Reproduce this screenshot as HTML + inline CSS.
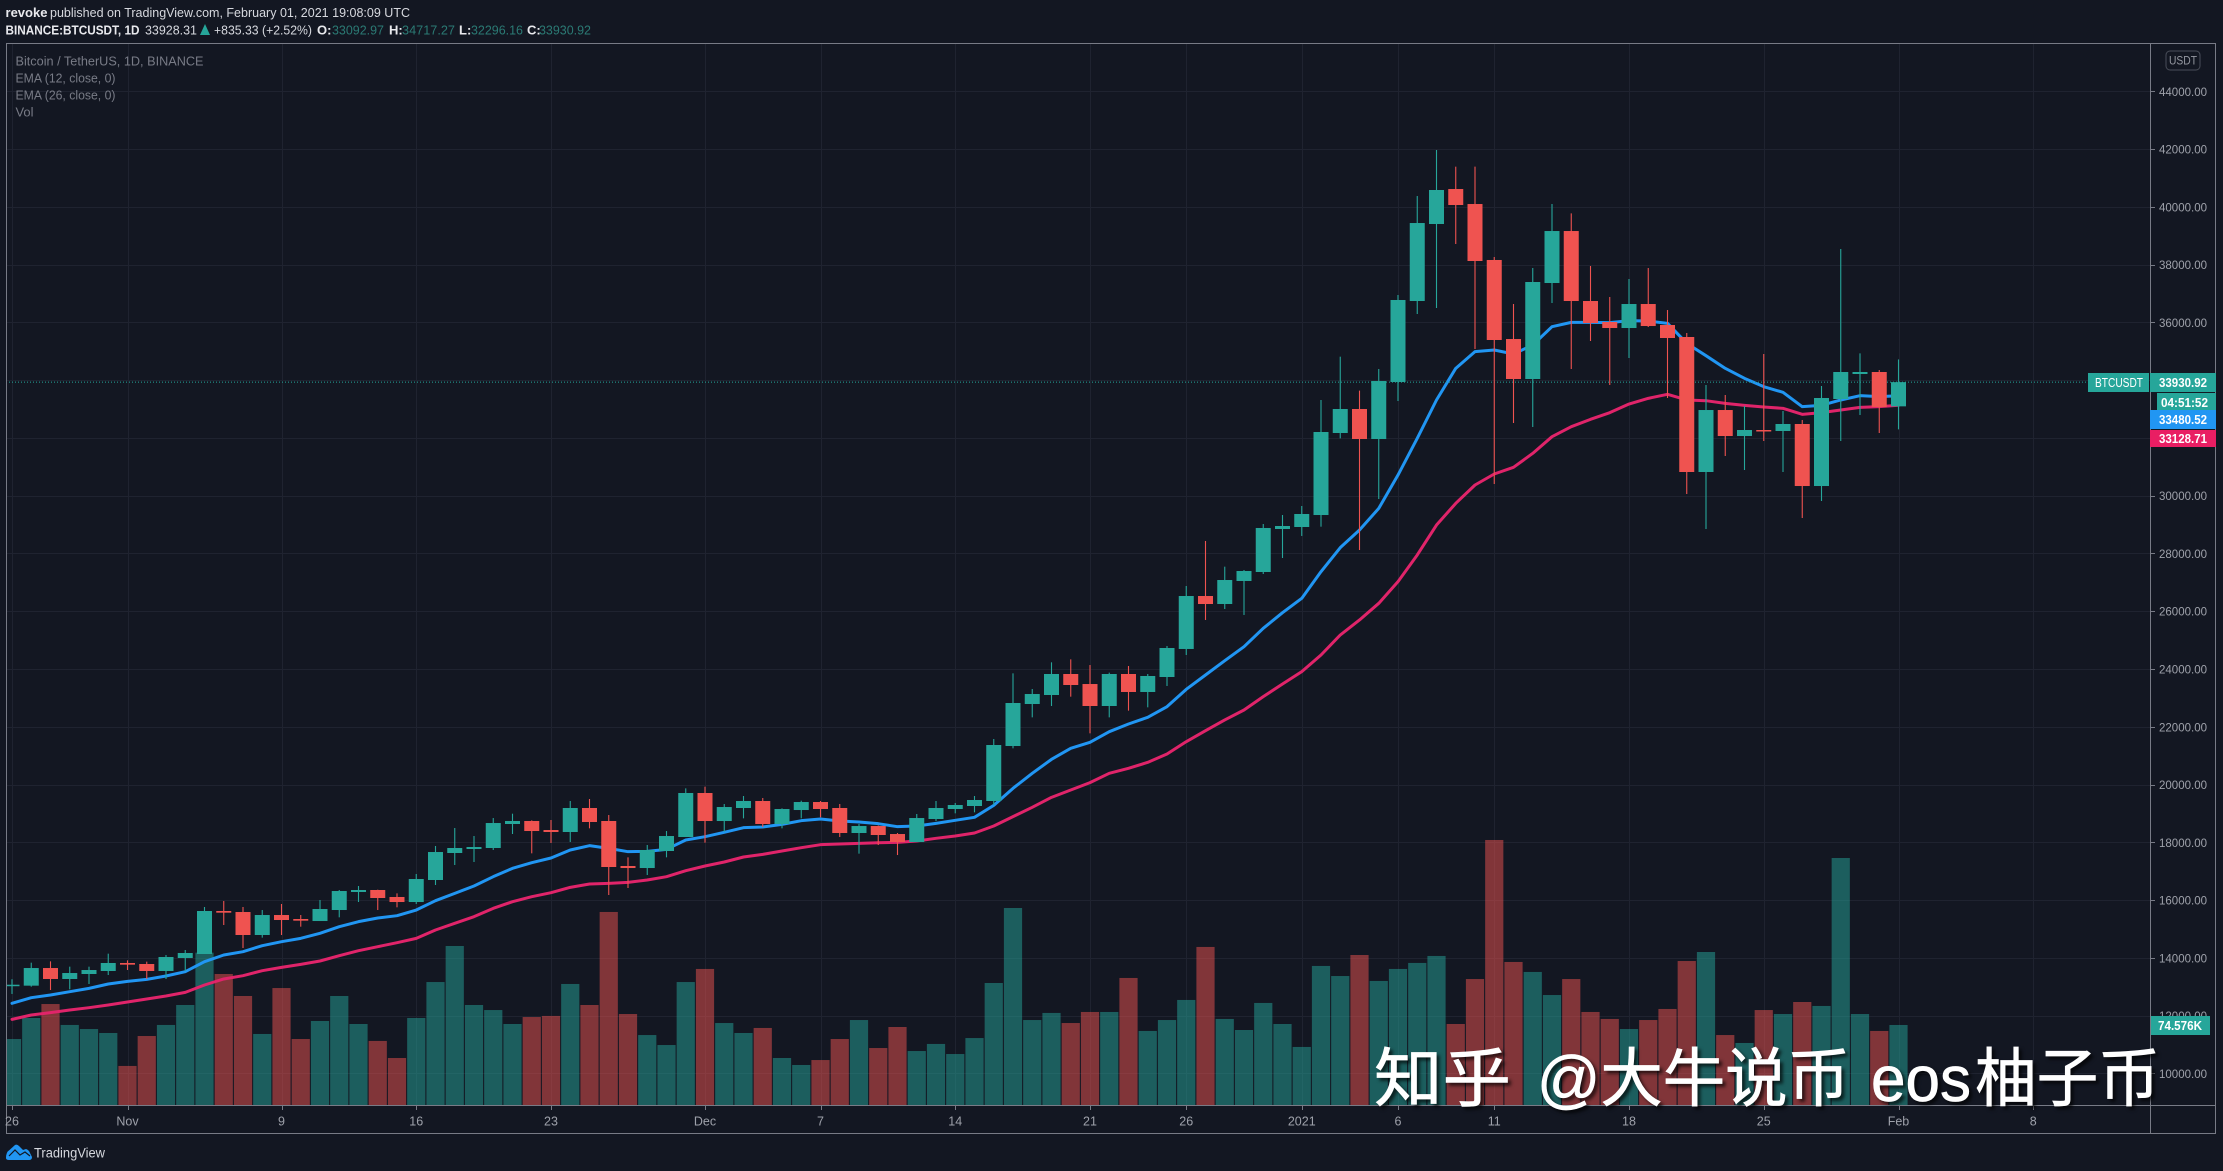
<!DOCTYPE html>
<html lang="en">
<head>
<meta charset="utf-8">
<title>BTCUSDT chart</title>
<style>
html,body{margin:0;padding:0;background:#131722;}
body{width:2223px;height:1171px;overflow:hidden;}
svg{display:block;}
text{font-family:"Liberation Sans","Noto Sans CJK SC",sans-serif;}
.wm{font-family:"Liberation Sans","Noto Sans CJK SC",sans-serif;fill:#fff;stroke:#fff;stroke-width:.7px;font-size:64px;}
</style>
</head>
<body>
<svg id="chart" xmlns="http://www.w3.org/2000/svg" width="2223" height="1171" viewBox="0 0 2223 1171">
  <rect x="0" y="0" width="2223" height="1171" fill="#131722"/>
  <g font-size="13" fill="#d6d8de">
    <text x="5.5" y="17" font-weight="bold" fill="#e8e9ed" textLength="42" lengthAdjust="spacingAndGlyphs">revoke</text>
    <text x="50" y="17" textLength="360" lengthAdjust="spacingAndGlyphs">published on TradingView.com, February 01, 2021 19:08:09 UTC</text>
  </g>
  <g font-size="13">
    <text x="5.5" y="34.5" font-weight="bold" fill="#e8e9ed" textLength="134" lengthAdjust="spacingAndGlyphs">BINANCE:BTCUSDT, 1D</text>
    <text x="145" y="34.5" fill="#d6d8de" textLength="52" lengthAdjust="spacingAndGlyphs">33928.31</text>
    <polygon points="200,35 210,35 205,24" fill="#26a69a"/>
    <text x="214" y="34.5" fill="#d6d8de" textLength="98" lengthAdjust="spacingAndGlyphs">+835.33 (+2.52%)</text>
    <text x="317" y="34.5" font-weight="bold" fill="#e8e9ed">O:</text>
    <text x="332" y="34.5" fill="#2b7a74" textLength="52" lengthAdjust="spacingAndGlyphs">33092.97</text>
    <text x="389" y="34.5" font-weight="bold" fill="#e8e9ed">H:</text>
    <text x="402" y="34.5" fill="#2b7a74" textLength="53" lengthAdjust="spacingAndGlyphs">34717.27</text>
    <text x="459" y="34.5" font-weight="bold" fill="#e8e9ed">L:</text>
    <text x="471" y="34.5" fill="#2b7a74" textLength="52" lengthAdjust="spacingAndGlyphs">32296.16</text>
    <text x="527" y="34.5" font-weight="bold" fill="#e8e9ed">C:</text>
    <text x="539" y="34.5" fill="#2b7a74" textLength="52" lengthAdjust="spacingAndGlyphs">33930.92</text>
  </g>
  <defs>
    <clipPath id="plot-clip"><rect x="6" y="44" width="2144" height="1061"/></clipPath>
  </defs>
  <g id="grid"></g>
  <g clip-path="url(#plot-clip)">
    <g id="volume"></g>
    <g id="emas"></g>
    <line id="last-line" stroke="#26a69a" stroke-width="1" stroke-dasharray="1 2"/>
    <g id="candles"></g>
  </g>
  <g fill="none" stroke="#787b86" stroke-width="1">
    <rect x="6.5" y="43.5" width="2209" height="1090"/>
    <line x1="2150.5" y1="44" x2="2150.5" y2="1134"/>
    <line x1="6" y1="1105.5" x2="2216" y2="1105.5"/>
  </g>
  <g id="price-axis"></g>
  <g id="time-axis"></g>
  <g font-size="13" fill="#787b86">
    <text x="15.5" y="65.5" textLength="188" lengthAdjust="spacingAndGlyphs">Bitcoin / TetherUS, 1D, BINANCE</text>
    <text x="15.5" y="82.5" textLength="100" lengthAdjust="spacingAndGlyphs">EMA (12, close, 0)</text>
    <text x="15.5" y="99.5" textLength="100" lengthAdjust="spacingAndGlyphs">EMA (26, close, 0)</text>
    <text x="15.5" y="116.5" textLength="18" lengthAdjust="spacingAndGlyphs">Vol</text>
  </g>
  <g>
    <rect x="2166" y="51" width="34" height="19" rx="4" fill="none" stroke="#4a4e59"/>
    <text x="2183" y="64.5" font-size="12" fill="#9598a1" text-anchor="middle" textLength="28" lengthAdjust="spacingAndGlyphs">USDT</text>
  </g>
  <g font-size="12.5" font-weight="bold" fill="#fff">
    <rect x="2088" y="373" width="61" height="19" fill="#26a69a"/>
    <text x="2095" y="387" textLength="48" lengthAdjust="spacingAndGlyphs" font-weight="normal" font-size="13">BTCUSDT</text>
    <rect x="2150" y="373" width="66" height="19" fill="#26a69a"/>
    <text x="2159" y="387" textLength="48" lengthAdjust="spacingAndGlyphs">33930.92</text>
    <rect x="2157" y="393" width="59" height="18" fill="#26a69a"/>
    <text x="2161" y="407" textLength="47" lengthAdjust="spacingAndGlyphs">04:51:52</text>
    <rect x="2150" y="410" width="66" height="19" fill="#2196f3"/>
    <text x="2159" y="424" textLength="48" lengthAdjust="spacingAndGlyphs">33480.52</text>
    <rect x="2150" y="430" width="66" height="17" fill="#e91e63"/>
    <text x="2159" y="443" textLength="48" lengthAdjust="spacingAndGlyphs">33128.71</text>
    <rect x="2151" y="1016" width="59" height="19" fill="#26a69a"/>
    <text x="2158" y="1030" textLength="44" lengthAdjust="spacingAndGlyphs">74.576K</text>
  </g>
  <g>
    <path d="M6 1158 Q6 1152 9.5 1150 L15 1145 Q17 1144 19 1146 L23 1150 L26 1149 Q29 1150 30 1153 L32 1157 Q32 1160 29 1160 L9 1160 Q6 1160 6 1158 Z" fill="#2196f3"/>
    <path d="M9 1156 L15 1150 L20 1155 L25 1152 L30 1156" fill="none" stroke="#131722" stroke-width="1.2"/>
    <text x="34" y="1157.5" font-size="13.5" fill="#d6d8de" textLength="71" lengthAdjust="spacingAndGlyphs">TradingView</text>
  </g>
  <g style="filter:drop-shadow(3px 3px 1.5px rgba(0,0,0,.65))">
    <text class="wm" x="1374" y="1101" textLength="137" lengthAdjust="spacingAndGlyphs">知乎</text>
    <text class="wm" x="1537" y="1101" textLength="313" lengthAdjust="spacingAndGlyphs">@大牛说币</text>
    <text class="wm" x="1871" y="1101" textLength="100" lengthAdjust="spacingAndGlyphs">eos</text>
    <text class="wm" x="1975" y="1101" textLength="185" lengthAdjust="spacingAndGlyphs">柚子币</text>
  </g>
</svg>
<script>
const categories = [
 'Oct 26','Oct 27','Oct 28','Oct 29','Oct 30','Oct 31','Nov 1','Nov 2','Nov 3','Nov 4',
 'Nov 5','Nov 6','Nov 7','Nov 8','Nov 9','Nov 10','Nov 11','Nov 12','Nov 13','Nov 14',
 'Nov 15','Nov 16','Nov 17','Nov 18','Nov 19','Nov 20','Nov 21','Nov 22','Nov 23','Nov 24',
 'Nov 25','Nov 26','Nov 27','Nov 28','Nov 29','Nov 30','Dec 1','Dec 2','Dec 3','Dec 4',
 'Dec 5','Dec 6','Dec 7','Dec 8','Dec 9','Dec 10','Dec 11','Dec 12','Dec 13','Dec 14',
 'Dec 15','Dec 16','Dec 17','Dec 18','Dec 19','Dec 20','Dec 21','Dec 22','Dec 23','Dec 24',
 'Dec 25','Dec 26','Dec 27','Dec 28','Dec 29','Dec 30','Dec 31','Jan 1','Jan 2','Jan 3',
 'Jan 4','Jan 5','Jan 6','Jan 7','Jan 8','Jan 9','Jan 10','Jan 11','Jan 12','Jan 13',
 'Jan 14','Jan 15','Jan 16','Jan 17','Jan 18','Jan 19','Jan 20','Jan 21','Jan 22','Jan 23',
 'Jan 24','Jan 25','Jan 26','Jan 27','Jan 28','Jan 29','Jan 30','Jan 31','Feb 1'];
const openPrices = [
 13030,13037,13648,13268,13441,13545,13822,13787,13545,13995,
 14133,15622,15587,14791,15483,15345,15275,15656,16280,16349,
 16107,15933,16695,17630,17768,17803,18634,18738,18426,18357,
 19188,18738,17180,17110,17699,18184,19707,18737,19188,19430,
 18634,19118,19395,19188,18322,18564,18287,18010,18807,19153,
 19257,19430,21334,22788,23100,23827,23480,22719,23827,23204,
 23723,24693,26527,26250,27047,27358,28847,28916,29331,32170,
 33001,31962,33936,36740,39406,40617,40098,38160,35424,34040,
 37363,39163,36740,36013,35805,36636,35909,35494,30820,32966,
 32066,32274,32240,32482,30335,33347,34213,34282,33093];
const highPrices = [
 13260,13833,13879,13695,13695,14145,13914,13868,14099,14272,
 15760,15968,15760,15656,15864,15483,16003,16349,16487,16360,
 16233,16903,17872,18495,18218,18841,18991,18760,18772,19430,
 19499,18945,17480,17907,18391,19868,19926,19326,19603,19534,
 19176,19441,19430,19326,18634,18580,18322,18980,19430,19361,
 19603,21576,23850,23307,24231,24334,24138,23873,24104,23827,
 24797,26874,28432,27543,27428,29020,29332,29643,33313,34813,
 33636,34386,36948,40375,41968,41391,41391,38263,36636,37882,
 40098,39775,37952,36879,37502,37882,36428,35632,33832,33486,
 33105,34905,32932,32620,33797,38540,34928,34351,34717];
const lowPrices = [
 12750,13002,12887,12910,13094,13406,13579,13268,13268,13545,
 14133,15137,14341,14699,14791,15079,15275,15403,15933,15656,
 15749,15864,16522,17214,17318,17734,18288,17618,17976,18010,
 18484,16176,16418,16868,17480,18184,17987,18368,18830,18530,
 18484,18830,18865,18184,17607,17907,17560,18010,18737,19003,
 19038,19292,21253,22326,22719,23042,21773,22326,22558,22673,
 23412,24485,25697,26077,25870,27289,27843,28605,28927,31985,
 28120,29885,33278,36290,36498,38713,35078,30405,32516,32378,
 36671,34386,35355,33832,34767,35840,33382,30058,28846,31374,
 30889,31893,30820,29227,29816,31893,32793,32170,32296];
const closePrices = [
 13070,13648,13268,13475,13579,13822,13764,13545,14029,14168,
 15622,15564,14791,15483,15310,15287,15691,16314,16349,16072,
 15933,16730,17664,17803,17837,18668,18738,18391,18357,19188,
 18703,17145,17110,17734,18218,19707,18737,19222,19430,18634,
 19153,19395,19153,18322,18564,18253,18010,18841,19188,19292,
 19465,21369,22823,23134,23827,23446,22719,23827,23204,23758,
 24727,26527,26250,27081,27393,28882,28951,29366,32205,33001,
 31962,33970,36775,39440,40583,40064,38125,35390,34040,37398,
 39163,36740,35978,35805,36636,35874,35459,30820,32966,32066,
 32274,32228,32482,30335,33382,34282,34282,33070,33931];
const ema12Values = [
 12425,12621,12714,12829,12944,13095,13187,13256,13372,13521,
 13868,14099,14214,14422,14560,14675,14849,15079,15253,15380,
 15460,15656,15979,16233,16487,16810,17099,17295,17457,17734,
 17884,17791,17676,17687,17757,18080,18195,18345,18507,18530,
 18622,18749,18807,18737,18703,18645,18541,18564,18657,18761,
 18865,19280,19869,20388,20872,21253,21461,21830,22096,22327,
 22696,23296,23792,24289,24773,25408,25950,26447,27370,28201,
 28812,29560,30716,31985,33313,34409,34986,35044,34905,35217,
 35851,36001,36001,35990,36059,36047,35967,35274,34847,34409,
 34063,33774,33578,33082,33128,33313,33463,33428,33461];
const ema26Values = [
 11871,12021,12102,12194,12275,12367,12471,12575,12679,12806,
 13060,13268,13383,13556,13671,13775,13891,14075,14249,14387,
 14525,14675,14964,15195,15426,15714,15945,16118,16256,16441,
 16557,16580,16614,16695,16810,17018,17180,17318,17491,17583,
 17699,17814,17918,17941,17964,17987,17999,18045,18138,18218,
 18322,18564,18888,19211,19557,19811,20065,20388,20561,20769,
 21057,21484,21865,22235,22581,23043,23481,23908,24485,25177,
 25697,26274,27024,27947,28985,29735,30370,30751,30982,31466,
 32043,32389,32643,32874,33174,33370,33509,33313,33289,33197,
 33128,33070,33024,32816,32874,32966,33059,33082,33129];
const volumeValues = [
 61.5,81.1,94.1,74.6,70.8,67.1,36.4,64.3,74.6,93.2,
 142,122.1,101.6,66.2,109,61.5,78.3,101.6,75.5,59.7,
 43.8,81.1,114.6,148.2,93.2,88.5,75.5,82,83,112.8,
 93.2,179.9,84.8,65.2,55.9,114.6,126.8,76.4,67.1,71.8,
 43.8,37.3,41.9,61.5,79.2,53.1,72.7,50.3,56.9,47.5,
 62.4,113.7,183.6,79.2,85.8,76.4,86.7,86.7,118.4,69,
 79.2,97.9,147.3,80.2,69.9,95.1,75.5,54.1,129.6,120.2,
 139.8,115.6,126.8,132.4,138.9,75.5,117.4,247,133.3,124,
 102.5,117.4,86.7,80.2,70.8,79.2,89.5,134.2,142.6,65.2,
 57.8,88.5,84.8,96,92.3,230.2,84.8,69,74.576];
const priceTicks = [44000,42000,40000,38000,36000,34000,32000,30000,28000,26000,24000,22000,20000,18000,16000,14000,12000,10000];
const priceTickLabels = ['44000.00','42000.00','40000.00','38000.00','36000.00','','','30000.00','28000.00','26000.00','24000.00','22000.00','20000.00','18000.00','16000.00','14000.00','12000.00','10000.00'];
const timeTickDays = [0,6,14,21,28,36,42,49,56,61,67,72,77,84,91,98,105];
const timeTickLabels = ['26','Nov','9','16','23','Dec','7','14','21','26','2021','6','11','18','25','Feb','8'];
const lastClose = 33930.92;

const NS = 'http://www.w3.org/2000/svg';
function xScale(i){ return 12 + i * 19.25; }
function yScale(p){ return 91.3 + (44000 - p) * 0.028885; }
function volHeight(v){ return v / 0.932; }
function make(tag, attrs, parent){
  const el = document.createElementNS(NS, tag);
  for (const k in attrs) el.setAttribute(k, attrs[k]);
  parent.appendChild(el);
  return el;
}
const gridG = document.getElementById('grid');
const priceG = document.getElementById('price-axis');
const timeG = document.getElementById('time-axis');
const volG = document.getElementById('volume');
const emaG = document.getElementById('emas');
const candleG = document.getElementById('candles');
const GRID = '#1f2330';

priceTicks.forEach(function(p, i){
  const y = Math.round(yScale(p)) + 0.5;
  const g = make('line', {x1:6, x2:2150, y1:y, y2:y, stroke:GRID, 'stroke-width':1}, gridG);
  
  
  const t = make('line', {x1:2150, x2:2155, y1:y, y2:y, stroke:'#787b86', 'stroke-width':1}, priceG);
  
  
  if (priceTickLabels[i]) {
    const l = make('text', {x:2159, y:yScale(p)+4.5, 'font-size':12, fill:'#9ea1aa', textLength:48, lengthAdjust:'spacingAndGlyphs'}, priceG);
    
    
    l.textContent = priceTickLabels[i];
  }
});
timeTickDays.forEach(function(d, i){
  const x = Math.round(xScale(d)) + 0.5;
  const g = make('line', {x1:x, x2:x, y1:44, y2:1105, stroke:GRID, 'stroke-width':1}, gridG);
  
  
  const t = make('line', {x1:x, x2:x, y1:1105, y2:1110, stroke:'#787b86', 'stroke-width':1}, timeG);
  
  
  const l = make('text', {x:xScale(d), y:1125.5, 'font-size':12.5, fill:'#9ea1aa', 'text-anchor':'middle'}, timeG);
  
  
  l.textContent = timeTickLabels[i];
});

categories.forEach(function(c, i){
  const up = closePrices[i] >= openPrices[i];
  const h = volHeight(volumeValues[i]);
  const b = make('rect', {x:xScale(i)-9.1, y:1105-h, width:18.2, height:h, fill: up ? 'rgba(38,166,154,0.5)' : 'rgba(239,83,80,0.5)'}, volG);
  
  
});

function emaPath(values){
  return values.map(function(v, i){ return (i ? 'L' : 'M') + xScale(i).toFixed(2) + ' ' + yScale(v).toFixed(2); }).join(' ');
}
const ema26Line = make('path', {d:emaPath(ema26Values), fill:'none', stroke:'#e0246a', 'stroke-width':3, 'stroke-linejoin':'round', 'stroke-linecap':'round'}, emaG);


const ema12Line = make('path', {d:emaPath(ema12Values), fill:'none', stroke:'#2196f3', 'stroke-width':3, 'stroke-linejoin':'round', 'stroke-linecap':'round'}, emaG);



const lastLine = document.getElementById('last-line');
lastLine.setAttribute('x1', 6);
lastLine.setAttribute('x2', 2088);
lastLine.setAttribute('y1', yScale(lastClose));
lastLine.setAttribute('y2', yScale(lastClose));

categories.forEach(function(c, i){
  const up = closePrices[i] >= openPrices[i];
  const col = up ? '#26a69a' : '#ef5350';
  const x = xScale(i);
  const wick = make('line', {x1:x, x2:x, y1:yScale(highPrices[i]), y2:yScale(lowPrices[i]), stroke:col, 'stroke-width':1.1}, candleG);
  
  
  const top = yScale(Math.max(openPrices[i], closePrices[i]));
  const bot = yScale(Math.min(openPrices[i], closePrices[i]));
  const body = make('rect', {x:x-7.5, y:top, width:15, height:Math.max(bot-top, 1.5), fill:col}, candleG);
  
  
});
</script>
</body>
</html>
